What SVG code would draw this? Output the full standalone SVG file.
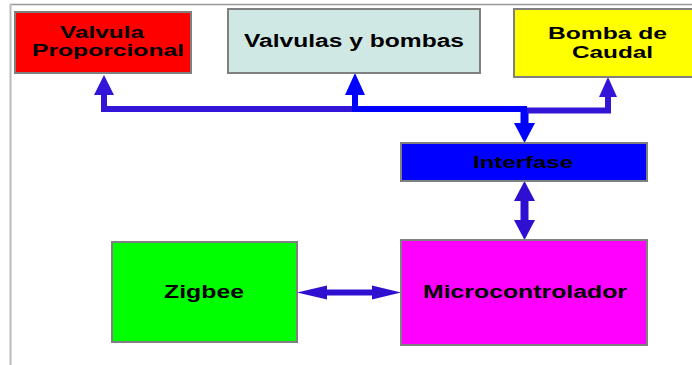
<svg xmlns="http://www.w3.org/2000/svg" width="692" height="365" viewBox="0 0 692 365">
<style>
.box{stroke:#808080;stroke-width:2}
.t{font-family:"Liberation Sans",Arial,sans-serif;font-weight:bold;fill:#000}
.w1{fill:none;stroke:#3315d8;stroke-width:6}
.w2{fill:none;stroke:#0000ff;stroke-width:6}
.h1{fill:#3315d8}
.h2{fill:#0000ff}
</style>
<rect width="692" height="365" fill="#fff"/>
<g id="frame">
<line x1="10" y1="4.5" x2="692" y2="4.5" stroke="#999" stroke-width="1.5"/>
<line x1="10.5" y1="4" x2="10.5" y2="365" stroke="#bbb" stroke-width="2"/>
</g>
<g id="connectors">
<path class="w1" d="M104,94 V109 H355"/>
<polygon class="h1" points="104,75 114,95 94,95"/>
<path class="w2" d="M355,94 V109 H527"/>
<polygon class="h2" points="355,73 365,95 345,95"/>
<path d="M524.5,109 V124" fill="none" stroke="#0000ff" stroke-width="8"/>
<polygon class="h2" points="514,123 535,123 524.5,143"/>
<path class="w1" d="M527,110.5 H608 V96"/>
<polygon class="h1" points="608,77 617,97 599,97"/>
<path d="M524.5,200 V221" fill="none" stroke="#3010d0" stroke-width="8"/>
<polygon fill="#3010d0" points="524.5,181 535,201 514,201"/>
<polygon fill="#3010d0" points="524.5,240 514,220 535,220"/>
<path d="M326,292.5 H373" fill="none" stroke="#3010d0" stroke-width="6"/>
<polygon fill="#3010d0" points="297,292.5 327,285.5 327,299.5"/>
<polygon fill="#3010d0" points="401,292.5 372,285.5 372,299.5"/>
</g>
<g id="valvula-proporcional">
<rect class="box" x="15" y="12" width="176" height="61" fill="#ff0000"/>
<text class="t" font-size="16" x="60" y="38" textLength="84" lengthAdjust="spacingAndGlyphs">Valvula</text>
<text class="t" font-size="16" x="32" y="56" textLength="152" lengthAdjust="spacingAndGlyphs">Proporcional</text>
</g>
<g id="valvulas-bombas">
<rect class="box" x="228" y="9" width="252" height="64" fill="#d0e8e4"/>
<text class="t" font-size="18" x="244" y="46.5" textLength="220" lengthAdjust="spacingAndGlyphs">Valvulas y bombas</text>
</g>
<g id="bomba-caudal">
<rect class="box" x="514" y="9" width="180" height="68" fill="#ffff00"/>
<text class="t" font-size="16" x="548" y="39" textLength="119" lengthAdjust="spacingAndGlyphs">Bomba de</text>
<text class="t" font-size="16" x="572" y="58" textLength="81" lengthAdjust="spacingAndGlyphs">Caudal</text>
</g>
<g id="interfase">
<rect class="box" x="401" y="143" width="246" height="38" fill="#0000ff"/>
<text class="t" font-size="17" x="473" y="168" textLength="100" lengthAdjust="spacingAndGlyphs">Interfase</text>
</g>
<g id="microcontrolador">
<rect class="box" x="401" y="240" width="246" height="105" fill="#ff00ff"/>
<text class="t" font-size="18" x="423" y="298" textLength="204" lengthAdjust="spacingAndGlyphs">Microcontrolador</text>
</g>
<g id="zigbee">
<rect class="box" x="112" y="242" width="185" height="100" fill="#00ff00"/>
<text class="t" font-size="18" x="164" y="298" textLength="80" lengthAdjust="spacingAndGlyphs">Zigbee</text>
</g>
</svg>
